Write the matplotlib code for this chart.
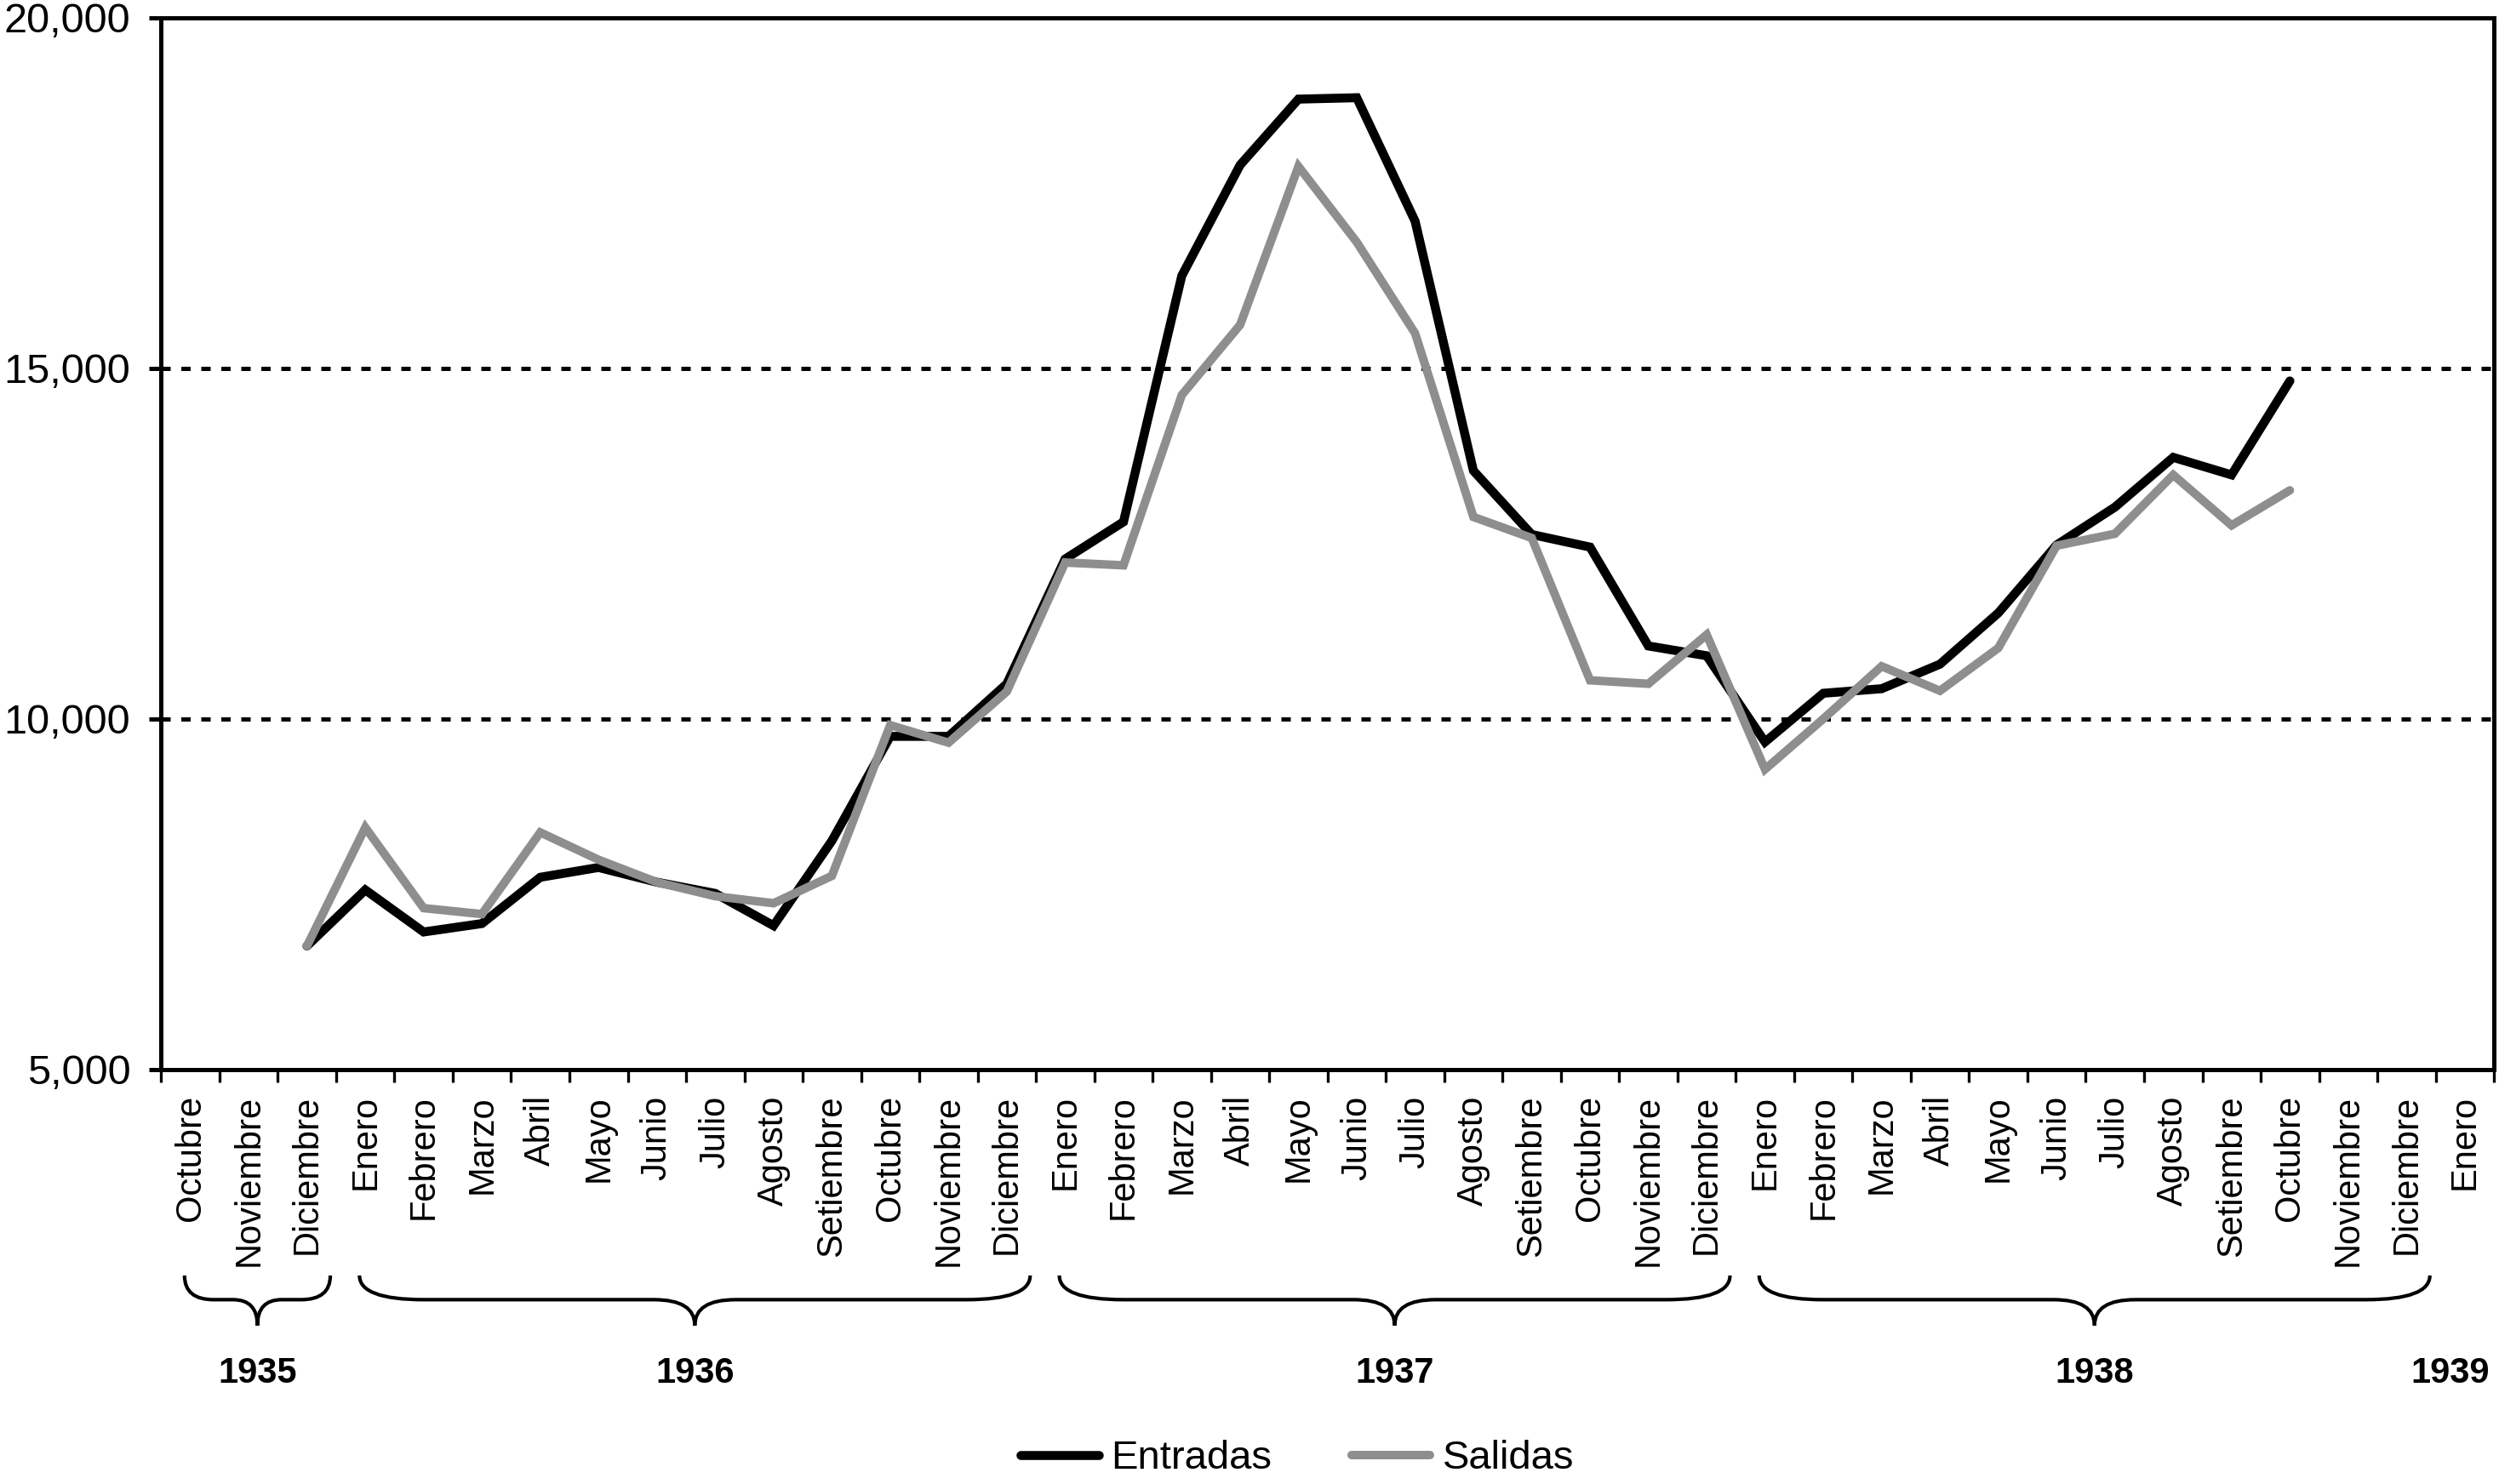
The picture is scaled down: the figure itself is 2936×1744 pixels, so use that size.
import numpy as np
import matplotlib
matplotlib.use("Agg")
import matplotlib.pyplot as plt
from matplotlib.path import Path
from matplotlib.patches import PathPatch
from matplotlib.ticker import FuncFormatter

plt.rcParams['font.family'] = ['Liberation Sans', 'DejaVu Sans']

# months on the x axis, Oct 1935 .. Jan 1939
meses = ['Octubre', 'Noviembre', 'Diciembre',
         'Enero', 'Febrero', 'Marzo', 'Abril', 'Mayo', 'Junio', 'Julio',
         'Agosto', 'Setiembre', 'Octubre', 'Noviembre', 'Diciembre',
         'Enero', 'Febrero', 'Marzo', 'Abril', 'Mayo', 'Junio', 'Julio',
         'Agosto', 'Setiembre', 'Octubre', 'Noviembre', 'Diciembre',
         'Enero', 'Febrero', 'Marzo', 'Abril', 'Mayo', 'Junio', 'Julio',
         'Agosto', 'Setiembre', 'Octubre', 'Noviembre', 'Diciembre',
         'Enero']

# year groups: label, first month index, last month index
anios = ['1935', '1936', '1937', '1938', '1939']
anio_ini = [0, 3, 15, 27, 39]
anio_fin = [2, 14, 26, 38, 39]

# series start at Diciembre 1935 (index 2), end at Octubre 1938
inicio = 2
entradas = [6760, 7560, 6960, 7080, 7740, 7880, 7670, 7510, 7050, 8260,
            9750, 9750, 10500, 12280, 12810, 16320, 17900, 18840, 18860, 17100,
            13540, 12630, 12450, 11040, 10900, 9670, 10365, 10430, 10780, 11510,
            12480, 13020, 13730, 13480, 14820]
salidas = [6760, 8450, 7300, 7215, 8380, 7990, 7670, 7470, 7370, 7760,
           9910, 9660, 10390, 12230, 12190, 14620, 15620, 17880, 16800, 15500,
           12880, 12580, 10550, 10500, 11200, 9280, 10000, 10750, 10400, 11010,
           12470, 12640, 13480, 12760, 13260]

x = np.arange(inicio, inicio + len(entradas))

fig = plt.figure(figsize=(14.68, 8.72), dpi=200)
ax = fig.add_axes([0.0645, 0.2794, 0.9335, 0.7086])

ax.plot(x, entradas, color='black', lw=3.8, solid_joinstyle='miter',
        solid_capstyle='round', label='Entradas', zorder=3)
ax.plot(x, salidas, color='#8e8e8e', lw=3.6, solid_joinstyle='miter',
        solid_capstyle='round', label='Salidas', zorder=3)

ax.set_xlim(-0.5, len(meses) - 0.5)
ax.set_ylim(5000, 20000)
ax.set_yticks([5000, 10000, 15000, 20000])
ax.yaxis.set_major_formatter(FuncFormatter(lambda v, p: '{:,.0f}'.format(v)))
ax.tick_params(axis='y', direction='out', length=5, width=1.8, pad=8, labelsize=17.5)

ax.set_xticks(np.arange(len(meses)))
ax.set_xticklabels(meses, rotation=90, fontsize=15)
ax.set_xticks(np.arange(len(meses) + 1) - 0.5, minor=True)
ax.tick_params(axis='x', which='major', length=0, pad=11)
ax.tick_params(axis='x', which='minor', direction='out', length=5.4, width=1.2)

ax.grid(axis='y', color='black', lw=1.8, linestyle=(0, (2.2, 2.5)), dash_capstyle='butt')
ax.set_axisbelow(True)
for s in ax.spines.values():
    s.set_linewidth(1.8)
    s.set_zorder(4)

# curly braces under the month labels
trans = ax.get_xaxis_transform()
ya, y1, y2 = -0.196, -0.219, -0.2435
for k in range(len(anios)):
    if anio_ini[k] == anio_fin[k]:
        # single month, no brace
        ax.text(anio_ini[k] - 0.25, -0.289, anios[k], transform=trans, ha='center', va='center',
                fontsize=15, fontweight='bold')
        continue
    x0 = anio_ini[k] - 0.1
    x1 = anio_fin[k] + 0.4
    xc = (x0 + x1) / 2
    r = min(1.1, (x1 - x0) / 5)
    rc = min(0.7, (x1 - x0) / 6)
    verts = [(x0, ya), (x0, y1), (x0 + r, y1),
             (xc - rc, y1), (xc, y1), (xc, y2),
             (xc, y1), (xc + rc, y1),
             (x1 - r, y1), (x1, y1), (x1, ya)]
    codes = [Path.MOVETO, Path.CURVE3, Path.CURVE3,
             Path.LINETO, Path.CURVE3, Path.CURVE3,
             Path.CURVE3, Path.CURVE3,
             Path.LINETO, Path.CURVE3, Path.CURVE3]
    ax.add_patch(PathPatch(Path(verts, codes), transform=trans, fill=False,
                           lw=1.5, color='black', clip_on=False))
    ax.text(xc, -0.289, anios[k], transform=trans, ha='center', va='center',
            fontsize=15, fontweight='bold')

fig.legend(loc='center', bbox_to_anchor=(0.519, 0.017), ncol=2, frameon=False,
           fontsize=17, handlelength=1.95, handletextpad=0.3, columnspacing=2.0)

fig.savefig('out.png', dpi=200)
